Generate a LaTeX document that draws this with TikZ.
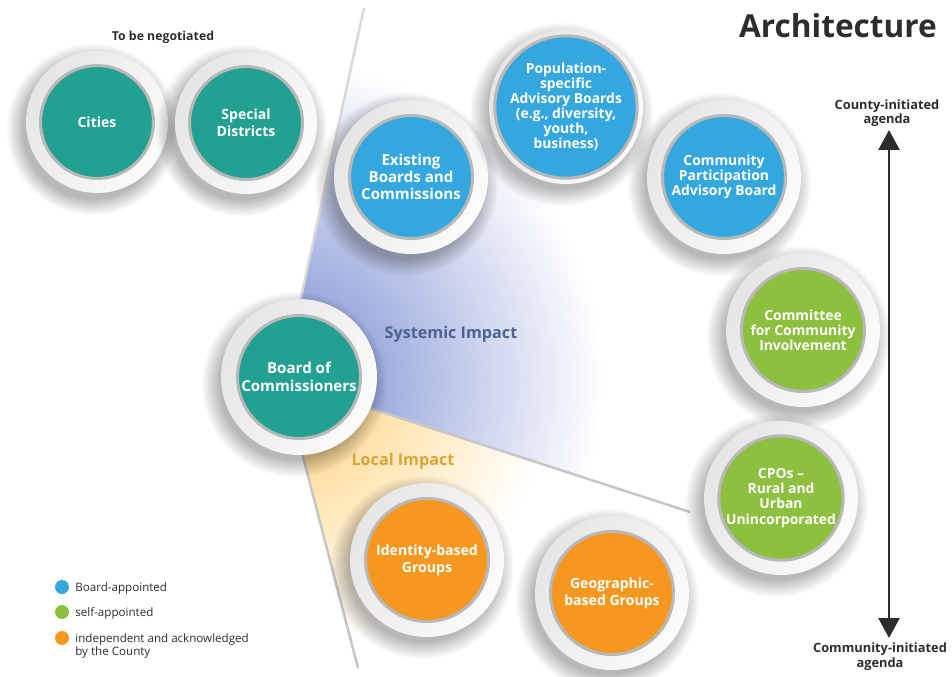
\documentclass[tikz,border=0pt]{standalone}
\usepackage{fontspec}
\setmainfont{Open Sans}
\usetikzlibrary{positioning,arrows.meta,backgrounds,fadings}

\definecolor{boardteal}{RGB}{34,160,145}
\definecolor{appointblue}{RGB}{52,168,222}
\definecolor{selfgreen}{RGB}{141,192,62}
\definecolor{indeporange}{RGB}{246,152,32}
\definecolor{wedgeblue}{RGB}{118,138,208}
\definecolor{wedgeorange}{RGB}{255,208,115}
\definecolor{systemictext}{RGB}{78,98,145}
\definecolor{localtext}{RGB}{218,165,55}
\definecolor{inktext}{RGB}{45,45,45}

\tikzset{
  bubble/.style={circle, draw=black!28, line width=0.06cm, minimum size=2.46cm,
    inner sep=0pt, text=white, align=center,
    font=\bfseries\fontsize{7.9}{8.6}\selectfont},
  small bubble/.style={bubble, minimum size=2.26cm},
  loose/.style={font=\bfseries\fontsize{8}{9.6}\selectfont},
  ring/.style={left color=gray!20, right color=gray!3, shading angle=60},
  soft shadow/.style={fill=black, opacity=0.28, path fading=circle with fuzzy edge 20 percent},
  wedge line/.style={draw=gray!45, line width=0.05cm},
  impact/.style={font=\bfseries\fontsize{9.2}{11}\selectfont},
  legend text/.style={anchor=north west, inner sep=0pt, align=left, text=inktext,
    font=\fontsize{6.6}{7.8}\selectfont},
  agenda/.style={align=center, inner sep=1pt, text=inktext,
    font=\bfseries\fontsize{7.3}{8.2}\selectfont},
}

\begin{document}
\begin{tikzpicture}[x=0.02cm, y=-0.02cm]
\useasboundingbox (0,0) rectangle (952,676);

% title and group label
\node[text=inktext, font=\bfseries\fontsize{18}{20}\selectfont] (title) at (838,26) {Architecture};
\node[text=inktext, font=\bfseries\fontsize{7}{8}\selectfont] (negotiated) at (163,37) {To be negotiated};

% circles
\node[small bubble, loose, fill=boardteal] (cities) at (97,122) {Cities};
\node[small bubble, loose, fill=boardteal] (districts) at (246,123) {Special\\Districts};
\node[bubble, fill=boardteal, font=\bfseries\fontsize{8.6}{10}\selectfont] (board) at (299,377) {Board of\\Commissioners};
\node[bubble, fill=appointblue, font=\bfseries\fontsize{8.6}{9.5}\selectfont] (existing) at (411,177) {Existing\\Boards and\\Commissions};
\node[bubble, fill=appointblue] (population) at (566,107) {Population-\\specific\\Advisory Boards\\(e.g., diversity,\\youth,\\business)};
\node[bubble, fill=appointblue] (participation) at (724,177) {Community\\Participation\\Advisory Board};
\node[bubble, fill=selfgreen] (committee) at (803,330) {Committee\\for Community\\Involvement};
\node[bubble, fill=selfgreen] (cpo) at (781,498) {CPOs --\\Rural and\\Urban\\Unincorporated};
\node[bubble, loose, fill=indeporange] (identity) at (427,560) {Identity-based\\Groups};
\node[bubble, loose, fill=indeporange] (geographic) at (612,593) {Geographic-\\based Groups};

% impact labels
\node[impact, text=systemictext] (systemic) at (451,334) {Systemic Impact};
\node[impact, text=localtext] (local) at (403,461) {Local Impact};

% agenda axis
\coordinate (hi) at (889,130);
\coordinate (lo) at (889,638);
\node[agenda, above=0.02cm of hi, xshift=-0.04cm] (county) {County-initiated\\agenda};
\node[agenda, below=0.06cm of lo, xshift=-0.18cm] (community) {Community-initiated\\agenda};
\draw[{Triangle[width=0.42cm,length=0.4cm]}-{Triangle[width=0.42cm,length=0.4cm]},
  line width=0.05cm, draw=inktext] (hi) -- (lo);

% legend
\foreach \c/\t/\y in {appointblue/Board-appointed/587, selfgreen/self-appointed/612,
    indeporange/{independent and acknowledged\\by the County}/638}
{
  \fill[\c] (62,\y) circle (0.14cm);
  \node[legend text] at (75,\y-5) {\t};
}

% wedges and rings behind the circles
\begin{scope}[on background layer]
  \coordinate (apex) at (283,380);
  \begin{scope}
    \clip (apex) -- (365,0) -- (952,0) -- (952,597) -- cycle;
    \shade[inner color=wedgeblue, outer color=white] (apex) circle (6.4cm);
  \end{scope}
  \begin{scope}
    \clip (apex) -- (952,597) -- (952,676) -- (360,676) -- cycle;
    \shade[inner color=wedgeorange, outer color=white] (apex) circle (5.4cm);
  \end{scope}
  \draw[wedge line, draw=gray!30] (apex) -- (364,8);
  \draw[wedge line] (apex) -- (690,512);
  \draw[wedge line] (apex) -- (358,668);

  \foreach \n/\r in {cities/1.42, districts/1.42, board/1.56, existing/1.54,
      population/1.54, participation/1.54, committee/1.54, cpo/1.54,
      identity/1.54, geographic/1.54}
  {
    \fill[soft shadow] ([shift={(-5,7)}]\n.center) circle (\r cm + 0.3cm);
    \shade[ring] (\n.center) circle (\r cm);
  }
\end{scope}
\end{tikzpicture}
\end{document}
